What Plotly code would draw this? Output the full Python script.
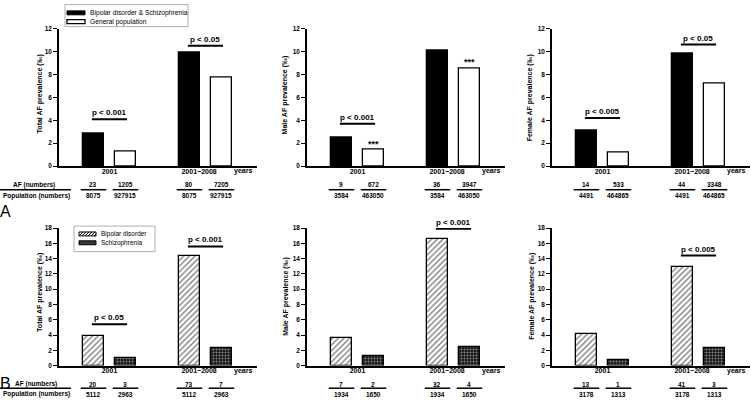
import plotly.graph_objects as go

# ---------------- data ----------------
groups = ["2001", "2001~2008"]
series_A = ["Bipolar disorder & Schizophrenia", "General population"]
series_B = ["Bipolar disorder", "Schizophrenia"]

titles = ["Total AF prevalence (‰)", "Male AF prevalence (‰)", "Female AF prevalence (‰)",
          "Total AF prevalence (‰)", "Male AF prevalence (‰)", "Female AF prevalence (‰)"]

# prevalence (‰) per group [2001, 2001~2008]
A_total_bs = [2.85, 9.91]
A_total_gen = [1.30, 7.76]
A_male_bs = [2.51, 10.04]
A_male_gen = [1.45, 8.52]
A_female_bs = [3.12, 9.80]
A_female_gen = [1.15, 7.20]
B_total_bip = [3.91, 14.28]
B_total_sch = [1.01, 2.36]
B_male_bip = [3.62, 16.55]
B_male_sch = [1.21, 2.42]
B_female_bip = [4.09, 12.90]
B_female_sch = [0.76, 2.28]

# AF numbers / population numbers, order: s1-2001, s2-2001, s1-2001~2008, s2-2001~2008
A_total_af = [23, 1205, 80, 7205]
A_total_pop = [8075, 927915, 8075, 927915]
A_male_af = [9, 672, 36, 3947]
A_male_pop = [3584, 463050, 3584, 463050]
A_female_af = [14, 533, 44, 3348]
A_female_pop = [4491, 464865, 4491, 464865]
B_total_af = [20, 3, 73, 7]
B_total_pop = [5112, 2963, 5112, 2963]
B_male_af = [7, 2, 32, 4]
B_male_pop = [1934, 1650, 1934, 1650]
B_female_af = [13, 1, 41, 3]
B_female_pop = [3178, 1313, 3178, 1313]

# significance labels per group (None = none) and bracket heights
A_total_p = ["p < 0.001", "p < 0.05"]
A_total_plev = [4.1, 10.5]
A_male_p = ["p < 0.001", None]
A_male_plev = [3.7, None]
A_male_stars = ["***", "***"]
A_female_p = ["p < 0.005", "p < 0.05"]
A_female_plev = [4.2, 10.6]
B_total_p = ["p < 0.05", "p < 0.001"]
B_total_plev = [5.4, 15.6]
B_male_p = [None, "p < 0.001"]
B_male_plev = [None, 17.9]
B_female_p = [None, "p < 0.005"]
B_female_plev = [None, 14.4]

# ---------------- layout helpers ----------------
W, H = 751, 403
FONT = "Liberation Sans, Arial, sans-serif"
INK = "black"


def px(x):
    return x / W


def py(y):
    return 1 - y / H


def bold(size):
    return dict(size=size, family=FONT, weight="bold", color=INK)


def plain(size):
    return dict(size=size, family=FONT, color=INK)


col_dom = [(59, 257), (307, 505), (552, 750)]
row_dom = [(25, 165), (228, 368)]
pos1 = [1, 4]   # first series bar positions
pos2 = [2, 5]   # second series bar positions
BW = 0.66

panels = [
    dict(s1=A_total_bs, s2=A_total_gen, af=A_total_af, pop=A_total_pop, p=A_total_p, plev=A_total_plev, stars=None, row=0, col=0),
    dict(s1=A_male_bs, s2=A_male_gen, af=A_male_af, pop=A_male_pop, p=A_male_p, plev=A_male_plev, stars=A_male_stars, row=0, col=1),
    dict(s1=A_female_bs, s2=A_female_gen, af=A_female_af, pop=A_female_pop, p=A_female_p, plev=A_female_plev, stars=None, row=0, col=2),
    dict(s1=B_total_bip, s2=B_total_sch, af=B_total_af, pop=B_total_pop, p=B_total_p, plev=B_total_plev, stars=None, row=1, col=0),
    dict(s1=B_male_bip, s2=B_male_sch, af=B_male_af, pop=B_male_pop, p=B_male_p, plev=B_male_plev, stars=None, row=1, col=1),
    dict(s1=B_female_bip, s2=B_female_sch, af=B_female_af, pop=B_female_pop, p=B_female_p, plev=B_female_plev, stars=None, row=1, col=2),
]

fig = go.Figure()
layout = dict(
    width=W, height=H, margin=dict(l=0, r=0, t=0, b=0),
    paper_bgcolor="white", plot_bgcolor="white", showlegend=False,
    font=dict(family=FONT, color=INK),
    bargap=0,
)
shapes = []
annotations = []

title_pos = [(40, 92), (285, 93), (530, 96), (40, 294), (286, 298), (532, 298)]
table_y = [(184, 189, 195), (387, 391, 397)]
years_y = [170, 373]

dot_pattern = dict(shape=".", fgcolor="white", bgcolor="#111111", size=3, solidity=0.4)

for i, pn in enumerate(panels):
    suf = "" if i == 0 else str(i + 1)
    xa, ya = "x" + suf, "y" + suf
    r, c = pn["row"], pn["col"]
    ymax = 12 if r == 0 else 18
    if r == 0:
        m1 = dict(color="black", line=dict(color="black", width=1.3))
        m2 = dict(color="white", line=dict(color="black", width=1.3))
    else:
        m1 = dict(color="white", line=dict(color="black", width=1.3),
                  pattern=dict(shape="/", fgcolor="black", bgcolor="white", size=4, solidity=0.35))
        m2 = dict(color="white", line=dict(color="black", width=1.3), pattern=dot_pattern)
    names = series_A if r == 0 else series_B
    fig.add_trace(go.Bar(x=pos1, y=pn["s1"], width=BW, marker=m1, name=names[0],
                         xaxis=xa, yaxis=ya, hoverinfo="y"))
    fig.add_trace(go.Bar(x=pos2, y=pn["s2"], width=BW, marker=m2, name=names[1],
                         xaxis=xa, yaxis=ya, hoverinfo="y"))

    x0, x1 = col_dom[c]
    y0, y1 = row_dom[r]
    layout["xaxis" + suf] = dict(
        domain=[px(x0), px(x1)], anchor=ya, range=[-0.078, 6.11],
        showline=True, linecolor="black", linewidth=2, ticks="",
        tickvals=[1.5, 4.3], ticktext=groups, ticklabelstandoff=-3,
        tickfont=bold(7),
        showgrid=False, zeroline=False, fixedrange=True,
    )
    layout["yaxis" + suf] = dict(
        domain=[py(y1), py(y0)], anchor=xa, range=[0, ymax], dtick=2,
        showline=True, linecolor="black", linewidth=1.5,
        ticks="outside", ticklen=4, tickwidth=1.3, tickcolor="black",
        tickfont=bold(6.5),
        showgrid=False, zeroline=False, fixedrange=True,
    )

    # y title
    tx, ty = title_pos[i]
    annotations.append(dict(x=px(tx), y=py(ty), xref="paper", yref="paper", text=titles[i],
                            textangle=-90, showarrow=False, xanchor="center", yanchor="middle",
                            font=bold(7)))
    # years label
    annotations.append(dict(x=px(x1 - 14), y=py(years_y[r]), xref="paper", yref="paper", text="years",
                            showarrow=False, xanchor="center", yanchor="middle", font=bold(7)))
    # p-value brackets
    for g in range(2):
        lab = pn["p"][g]
        if lab is None:
            continue
        lev = pn["plev"][g]
        a, b = pos1[g] - 0.05, pos2[g] + 0.05
        shapes.append(dict(type="line", xref=xa, yref=ya, x0=a, x1=b, y0=lev, y1=lev,
                           line=dict(color="black", width=2)))
        annotations.append(dict(x=(a + b) / 2, y=lev, xref=xa, yref=ya, text=lab, showarrow=False,
                                xanchor="center", yanchor="bottom", yshift=0, font=bold(8)))
    if pn["stars"]:
        for g in range(2):
            annotations.append(dict(x=pos2[g], y=pn["s2"][g], xref=xa, yref=ya, text=pn["stars"][g],
                                    showarrow=False, xanchor="center", yanchor="bottom", yshift=-1,
                                    font=bold(9)))
    # table of numbers
    ty_n, ty_l, ty_d = table_y[r]
    allpos = [pos1[0], pos2[0], pos1[1], pos2[1]]
    for k, xp in enumerate(allpos):
        annotations.append(dict(x=xp, y=py(ty_n), xref=xa, yref="paper", text=str(pn["af"][k]),
                                showarrow=False, xanchor="center", yanchor="middle", font=bold(6.5)))
        annotations.append(dict(x=xp, y=py(ty_d), xref=xa, yref="paper", text=str(pn["pop"][k]),
                                showarrow=False, xanchor="center", yanchor="middle", font=bold(6.5)))
        shapes.append(dict(type="line", xref=xa, yref="paper", x0=xp - 0.4, x1=xp + 0.4,
                           y0=py(ty_l), y1=py(ty_l), line=dict(color="black", width=1.5)))

# row labels for the tables
af_label_x = [34, 36]
for r in range(2):
    ty_n, ty_l, ty_d = table_y[r]
    annotations.append(dict(x=px(af_label_x[r]), y=py(ty_n), xref="paper", yref="paper", text="AF (numbers)",
                            showarrow=False, xanchor="center", yanchor="middle", font=bold(6.5)))
    annotations.append(dict(x=px(36), y=py(ty_d), xref="paper", yref="paper", text="Population (numbers)",
                            showarrow=False, xanchor="center", yanchor="middle", font=bold(6.5)))
    shapes.append(dict(type="line", xref="paper", yref="paper", x0=0, x1=px(71),
                       y0=py(ty_l), y1=py(ty_l), line=dict(color="black", width=1.5)))

# panel letters
annotations.append(dict(x=px(5), y=py(211), xref="paper", yref="paper", text="A", showarrow=False,
                        xanchor="center", yanchor="middle", font=plain(16)))
annotations.append(dict(x=px(5), y=py(386), xref="paper", yref="paper", text="B", showarrow=False,
                        xanchor="center", yanchor="middle", font=plain(16)))

# ---- legend A (drawn) ----
shapes.append(dict(type="rect", xref="paper", yref="paper", x0=px(65), x1=px(188), y0=py(0.6), y1=py(23),
                   line=dict(color="#999999", width=0.8), fillcolor="white", layer="below"))
shapes.append(dict(type="rect", xref="paper", yref="paper", x0=px(67), x1=px(85), y0=py(7), y1=py(11),
                   line=dict(color="black", width=1), fillcolor="black"))
shapes.append(dict(type="rect", xref="paper", yref="paper", x0=px(67), x1=px(85), y0=py(16), y1=py(20),
                   line=dict(color="black", width=1.3), fillcolor="white"))
annotations.append(dict(x=px(88), y=py(9), xref="paper", yref="paper", text=series_A[0], showarrow=False,
                        xanchor="left", yanchor="middle", font=plain(6.7)))
annotations.append(dict(x=px(88), y=py(18), xref="paper", yref="paper", text=series_A[1], showarrow=False,
                        xanchor="left", yanchor="middle", font=plain(6.7)))

# ---- legend B (drawn) ----
shapes.append(dict(type="rect", xref="paper", yref="paper", x0=px(74), x1=px(155), y0=py(226), y1=py(252),
                   line=dict(color="#999999", width=0.8), fillcolor="white", layer="below"))
shapes.append(dict(type="rect", xref="paper", yref="paper", x0=px(79), x1=px(96), y0=py(232), y1=py(236),
                   line=dict(color="black", width=1), fillcolor="white"))
hatch = ""
for hx in range(79, 96, 3):
    xa0, xa1 = hx, min(hx + 4, 96)
    hatch += f"M{px(xa0)},{py(236)} L{px(xa1)},{py(236 - (xa1 - xa0))} "
shapes.append(dict(type="path", xref="paper", yref="paper", path=hatch,
                   line=dict(color="black", width=1)))
shapes.append(dict(type="rect", xref="paper", yref="paper", x0=px(79), x1=px(96), y0=py(241), y1=py(245),
                   line=dict(color="black", width=1), fillcolor="#3a3a3a"))
annotations.append(dict(x=px(99), y=py(234), xref="paper", yref="paper", text=series_B[0], showarrow=False,
                        xanchor="left", yanchor="middle", font=plain(6.5)))
annotations.append(dict(x=px(99), y=py(243), xref="paper", yref="paper", text=series_B[1], showarrow=False,
                        xanchor="left", yanchor="middle", font=plain(6.5)))

layout["shapes"] = shapes
layout["annotations"] = annotations
fig.update_layout(**layout)
fig.write_html(
    "out.html",
    config={"displayModeBar": False},
    post_script="document.body.style.margin='0';document.body.style.padding='0';"
                "document.documentElement.style.overflow='hidden';",
)
